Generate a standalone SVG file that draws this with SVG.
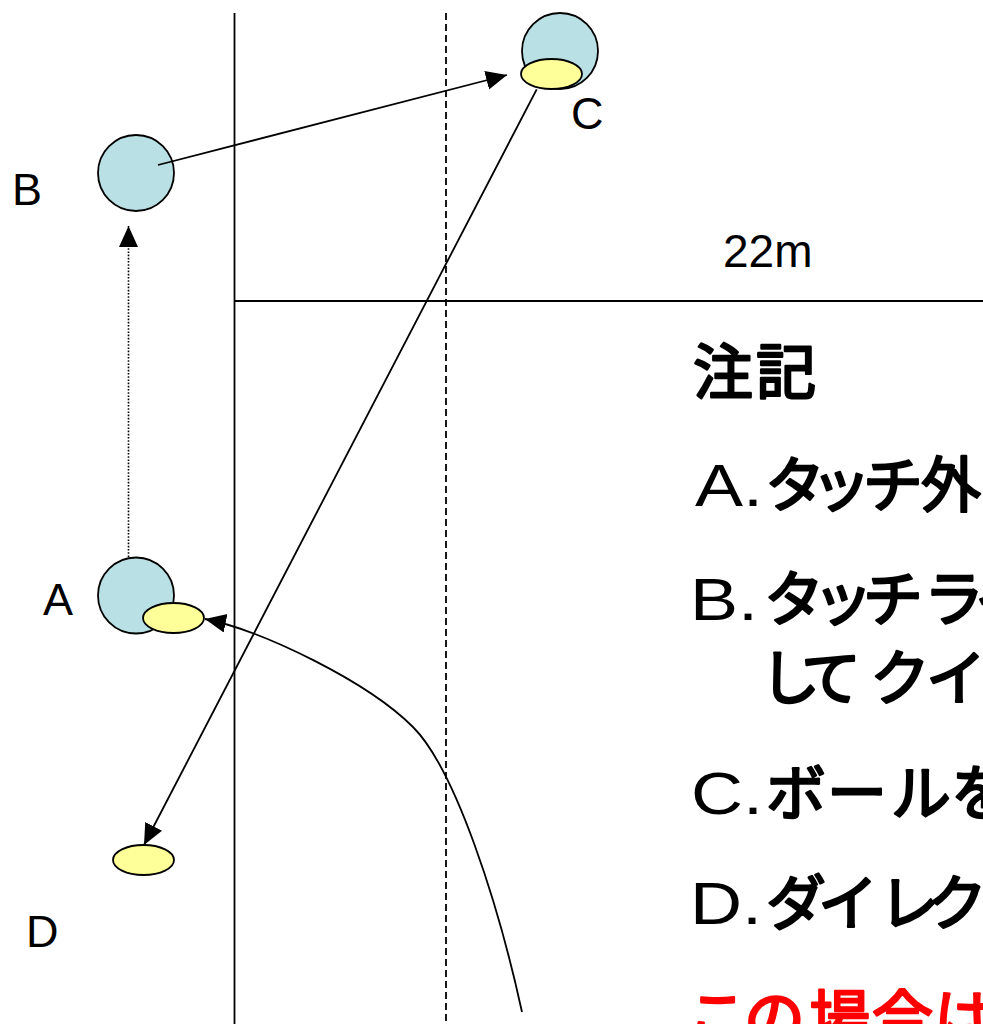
<svg xmlns="http://www.w3.org/2000/svg" width="983" height="1024" viewBox="0 0 983 1024">
<style>
.field{stroke:#000;stroke-width:1.8;fill:none}
.dash{stroke-dasharray:7 4}
.player{fill:#B9E0E4;stroke:#000;stroke-width:1.8}
.ball{fill:#FFFF99;stroke:#000;stroke-width:1.8}
.conn{stroke:#000;stroke-width:1.8;fill:none}
.dot{stroke-dasharray:1.6 1.6;stroke-width:1.6}
.lbl{font-family:"Liberation Sans",Arial,sans-serif;font-size:45px;fill:#000}
.lat{font-family:"Liberation Sans",Arial,sans-serif;font-size:60px;fill:#000}
.jp{font-family:"Noto Sans CJK JP","Noto Sans CJK SC",sans-serif;font-size:60px;fill:#000;stroke:#000;stroke-width:2.4px;stroke-linejoin:round}
.red{fill:#FF0000;stroke:#FF0000;font-size:61px}
</style>
<defs>
<marker id="arr" markerUnits="userSpaceOnUse" markerWidth="22" markerHeight="20" refX="21" refY="9.5" orient="auto">
<path d="M0,0 L21,9.5 L0,19 z" fill="#000"/>
</marker>
</defs>
<rect width="983" height="1024" fill="#fff"/>
<g id="field">
<line class="field" x1="234.5" y1="13" x2="234.5" y2="1024"/>
<line class="field dash" x1="446" y1="13" x2="446" y2="1024"/>
<line class="field" x1="234.5" y1="301" x2="983" y2="301"/>
</g>
<g id="nodeB">
<circle class="player" cx="136" cy="173" r="38"/>
<text class="lbl" x="12" y="205">B</text>
</g>
<g id="nodeC">
<circle class="player" cx="560" cy="51" r="38"/>
<ellipse class="ball" cx="551.5" cy="74" rx="30.5" ry="15"/>
<text class="lbl" x="571" y="129">C</text>
</g>
<g id="nodeA">
<circle class="player" cx="136" cy="595.5" r="38"/>
<ellipse class="ball" cx="173.5" cy="618" rx="30.5" ry="15"/>
<text class="lbl" x="43" y="615">A</text>
</g>
<g id="nodeD">
<ellipse class="ball" cx="143.5" cy="860" rx="30.5" ry="15"/>
<text class="lbl" x="26" y="947">D</text>
</g>
<g id="label22m">
<text class="lbl" x="723" y="267" style="font-size:46px">22m</text>
</g>
<g id="connectors">
<line class="conn" x1="158" y1="165" x2="507" y2="75" marker-end="url(#arr)"/>
<line class="conn dot" x1="128.5" y1="557" x2="128.5" y2="226" marker-end="url(#arr)"/>
<line class="conn" x1="536.7" y1="89.3" x2="144" y2="845" marker-end="url(#arr)"/>
<path class="conn" d="M522,1012 C498,902 455,769 413,727 C368,682 264,631 205,619" marker-end="url(#arr)"/>
</g>
<g id="notes">
<text class="jp" x="693 756" y="394">注記</text>
<text class="lat" transform="translate(695,506) scale(1.2,1)" x="0" y="0">A.</text>
<text class="jp" x="765 811 863 921" y="507">タッチ外</text>
<text class="lat" transform="translate(690,620) scale(1.2,1)" x="0" y="0">B.</text>
<text class="jp" x="764 813 863 924 975" y="621">タッチライ</text>
<text class="jp" x="760 801 870 926" y="700">してクイ</text>
<text class="lat" transform="translate(691,814) scale(1.2,1)" x="0" y="0">C.</text>
<text class="jp" x="766 827 891 951" y="815">ボールを</text>
<text class="lat" transform="translate(690,924) scale(1.2,1)" x="0" y="0">D.</text>
<text class="jp" x="766 818 879 927" y="925">ダイレク</text>
<text class="jp red" x="687 744 809 872 934" y="1041">この場合は</text>
</g>
</svg>
